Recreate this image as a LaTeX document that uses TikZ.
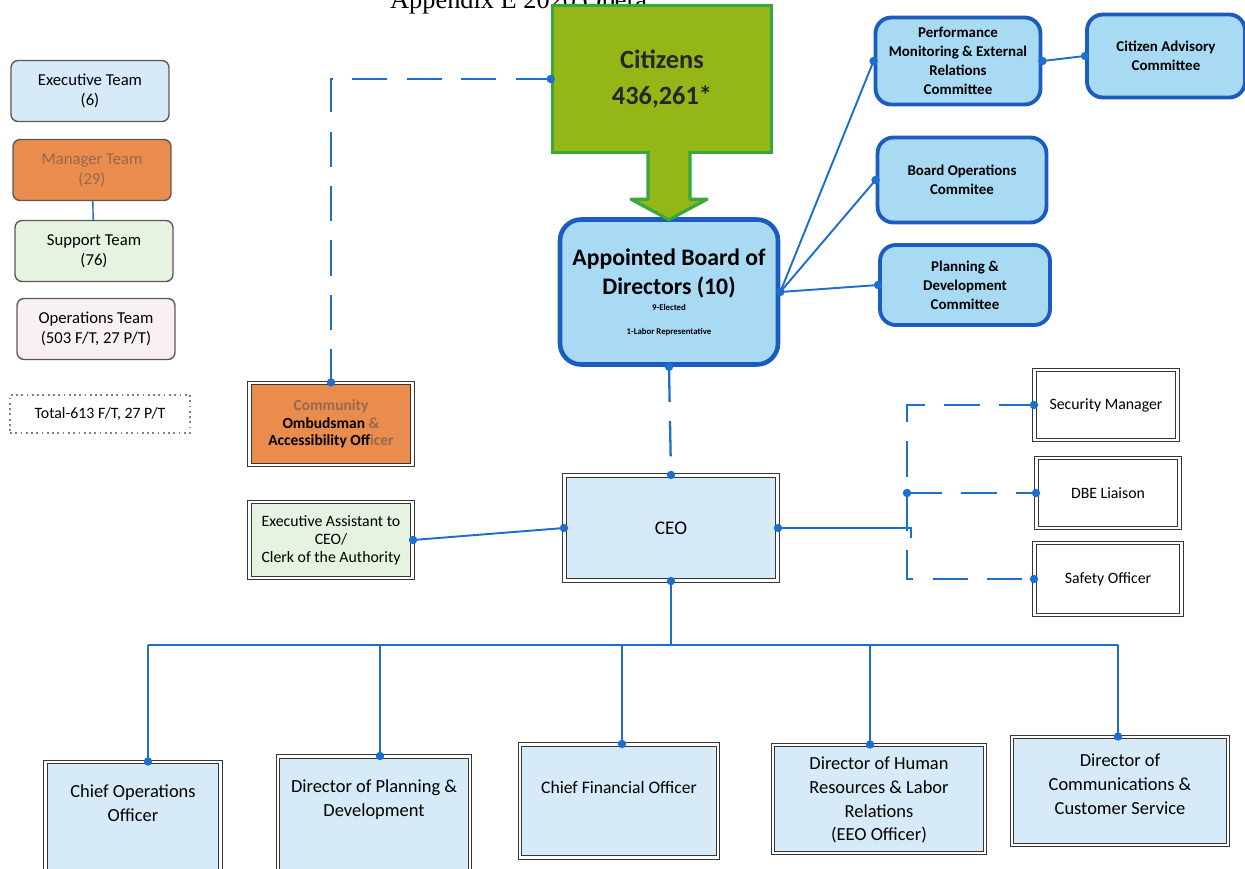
\documentclass[tikz,border=0pt]{standalone}
\usepackage{fontspec}
\setmainfont{Carlito}
\newfontfamily\titlefont{Liberation Serif}
\usetikzlibrary{positioning}
\definecolor{linkblue}{RGB}{30,110,205}
\definecolor{cmtblue}{RGB}{168,218,243}
\definecolor{cmtedge}{RGB}{28,92,190}
\definecolor{paleblue}{RGB}{214,234,248}
\definecolor{citgreen}{RGB}{148,182,22}
\definecolor{citedge}{RGB}{55,168,60}
\definecolor{mgrorange}{RGB}{234,140,78}
\definecolor{palegreen}{RGB}{230,243,224}
\definecolor{palepink}{RGB}{249,241,241}
\definecolor{boxedge}{RGB}{55,55,55}
\definecolor{fadedtxt}{RGB}{150,105,80}

\begin{document}
\begin{tikzpicture}[x=0.02cm, y=-0.02cm,
    conn/.style={draw=linkblue, line width=1.1pt},
    dashconn/.style={draw=linkblue, line width=1.3pt, dash pattern=on 20pt off 11pt},
    legend/.style={draw=gray!70!black, rounded corners=4pt, line width=0.8pt, align=center,
      minimum width=3.16cm, minimum height=1.22cm, font=\fontsize{9.5}{11.5}\selectfont},
    cmt/.style={draw=cmtedge, fill=cmtblue, line width=2.2pt, rounded corners=9pt, align=center,
      font=\fontsize{8.5}{10.8}\selectfont\bfseries},
    officebox/.style={draw=boxedge, double=white, double distance=1.3pt, line width=0.6pt, align=center},
    headbox/.style={officebox, fill=paleblue},
    headtext/.style={align=center, font=\fontsize{10.5}{13.6}\selectfont}]

    \useasboundingbox (0,0) rectangle (1245,869);

    \node[anchor=base west, font=\titlefont\fontsize{15}{15}\selectfont] (title) at (384,8) {Appendix E 2020 Opera};

    \node[legend, fill=paleblue] (lg-exec) at (90,91) {Executive Team\\(6)};
    \node[legend, fill=mgrorange, text=fadedtxt] (lg-mgr) at (92,170) {Manager Team\\(29)};
    \node[legend, fill=palegreen] (lg-sup) at (94,251) {Support Team\\(76)};
    \node[legend, fill=palepink] (lg-ops) at (96,329) {Operations Team\\(503 F/T, 27 P/T)};
    \node[draw=gray, dotted, line width=1pt, minimum width=3.6cm, minimum height=0.76cm,
      font=\fontsize{9}{11}\selectfont] (lg-total) at (100,414) {Total-613 F/T, 27 P/T};
    \draw[conn, line width=0.8pt] (lg-mgr) -- (lg-sup);

    \node[draw=citedge, fill=citgreen, line width=2pt, minimum width=4.38cm, minimum height=2.94cm,
      align=center, text=black!85, font=\fontsize{15}{20}\selectfont\bfseries] (citizens) at (662,79) {Citizens\\436,261*};
    \node[cmt, line width=2.6pt, rounded corners=12pt, minimum width=4.36cm, minimum height=2.9cm,
      font=\fontsize{13.5}{16.4}\selectfont\bfseries] (board) at (669,292)
      {Appointed Board of\\Directors (10)\\[-7pt]{\fontsize{5}{6}\selectfont 9-Elected}\\[-3pt]{\fontsize{5}{6}\selectfont 1-Labor Representative}};

    \path[draw=citedge, fill=citgreen, line width=1.8pt, line join=round]
      ([xshift=-0.42cm, yshift=0.06cm]board.north |- citizens.south)
      -- ([xshift=-0.42cm, yshift=0.36cm]board.north)
      -- ([xshift=-0.76cm, yshift=0.36cm]board.north)
      -- ([yshift=-0.05cm]board.north)
      -- ([xshift=0.76cm, yshift=0.36cm]board.north)
      -- ([xshift=0.42cm, yshift=0.36cm]board.north)
      -- ([xshift=0.42cm, yshift=0.06cm]board.north |- citizens.south);

    \node[cmt, minimum width=3.3cm, minimum height=1.74cm] (perf) at (958,61) {Performance\\Monitoring \& External\\Relations\\Committee};
    \node[cmt, minimum width=3.16cm, minimum height=1.66cm] (advisory) at (1166,56) {Citizen Advisory\\Committee};
    \node[cmt, minimum width=3.38cm, minimum height=1.7cm] (boardops) at (962,180) {Board Operations\\Commitee};
    \node[cmt, minimum width=3.4cm, minimum height=1.6cm] (planning) at (965,285) {Planning \&\\Development\\Committee};

    \node[officebox, fill=mgrorange, minimum width=3.26cm, minimum height=1.64cm,
      font=\fontsize{8.8}{9.8}\selectfont\bfseries] (ombuds) at (331,424)
      {\textcolor{fadedtxt}{Community}\\Ombudsman \textcolor{fadedtxt}{\&}\\Accessibility Off\textcolor{fadedtxt}{icer}};
    \node[officebox, fill=palegreen, minimum width=3.26cm, minimum height=1.52cm,
      font=\fontsize{9}{10.3}\selectfont] (assistant) at (331,540) {Executive Assistant to\\CEO/\\Clerk of the Authority};
    \node[officebox, fill=paleblue, minimum width=4.26cm, minimum height=2.1cm,
      font=\fontsize{11}{13}\selectfont] (ceo) at (671,528) {CEO};

    \node[officebox, fill=white, minimum width=2.86cm, minimum height=1.4cm, font=\fontsize{9}{11}\selectfont] (security) at (1106,405) {Security Manager};
    \node[officebox, fill=white, minimum width=2.86cm, minimum height=1.4cm, font=\fontsize{9}{11}\selectfont] (dbe) at (1108,493) {DBE Liaison};
    \node[officebox, fill=white, minimum width=2.94cm, minimum height=1.44cm, font=\fontsize{9}{11}\selectfont] (safety) at (1108,579) {Safety Officer};

    \node[headbox, minimum width=3.5cm, minimum height=2.36cm] (coo) at (133,821) {};
    \node[headbox, minimum width=3.84cm, minimum height=2.46cm] (planningdir) at (374,818) {};
    \node[headbox, minimum width=3.96cm, minimum height=2.26cm] (cfo) at (619,801) {};
    \node[headbox, minimum width=4.24cm, minimum height=2.16cm] (hrdir) at (879,799) {};
    \node[headbox, minimum width=4.32cm, minimum height=2.16cm] (commsdir) at (1120,791) {};
    \node[headtext] (coo-txt) at (133,803) {Chief Operations\\Officer};
    \node[headtext] (planningdir-txt) at (374,800) {Director of Planning \&\\Development};
    \node[headtext, font=\fontsize{10}{12}\selectfont] (cfo-txt) at (619,787) {Chief Financial Officer};
    \node[headtext] (hrdir-txt) at (879,800) {Director of Human\\Resources \& Labor\\Relations\\(EEO Officer)};
    \node[headtext] (commsdir-txt) at (1120,784) {Director of\\Communications \&\\Customer Service};

    \coordinate (brk) at (907,497);
    \coordinate (tail) at (911,538);
    \coordinate (j1) at (148,645);
    \coordinate (j2) at (380,645);
    \coordinate (j3) at (622,645);
    \coordinate (j4) at (870,645);
    \coordinate (j5) at (1118,645);

    \draw[dashconn] (citizens.west) -| (ombuds.north);
    \draw[dashconn] (board.south) -- (ceo.north);
    \draw[conn] (board.east) -- (perf.west);
    \draw[conn] (board.east) -- (boardops.west);
    \draw[conn] (board.east) -- (planning.west);
    \draw[conn] (perf.east) -- (advisory.west);
    \draw[conn] (assistant.east) -- (ceo.west);
    \draw[conn] (ceo.east) -| (tail);
    \draw[dashconn] (security.west) -| (brk |- safety.west) -- (safety.west);
    \draw[dashconn] (brk |- dbe.west) -- (dbe.west);
    \draw[conn] (ceo.south) -- (ceo.south |- j1);
    \draw[conn] (j1) -- (j5);
    \foreach \j/\b in {j1/coo, j2/planningdir, j3/cfo, j4/hrdir, j5/commsdir} {
      \draw[conn] (\j) -- (\j |- \b.north);
      \fill[linkblue] (\j |- \b.north) circle (2.4pt);
    }
    \foreach \p in {citizens.west, ombuds.north, board.south, board.east, perf.west, perf.east, advisory.west,
        boardops.west, planning.west, assistant.east, ceo.west, ceo.east, ceo.north, ceo.south,
        security.west, dbe.west, safety.west, brk |- dbe.west}
      \fill[linkblue] (\p) circle (2.4pt);
\end{tikzpicture}
\end{document}
